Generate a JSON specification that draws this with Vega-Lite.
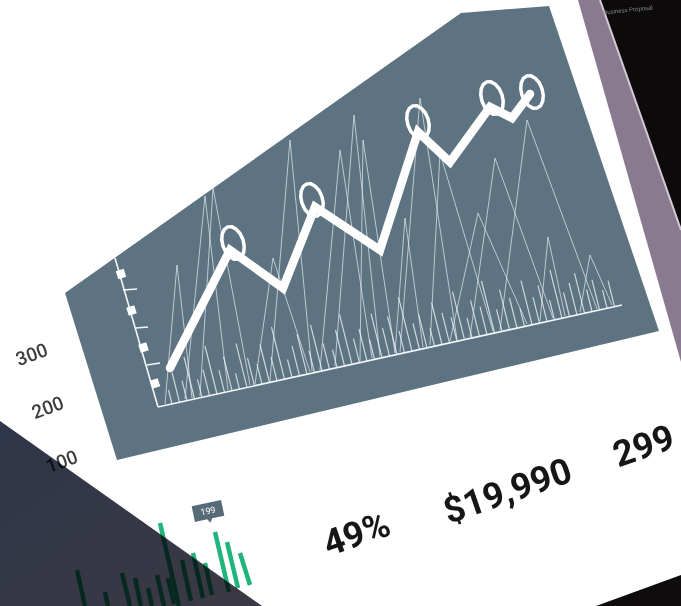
{
"$schema":"https://vega.github.io/schema/vega-lite/v6.json",
"autosize":{"type":"fit","contains":"padding"},
"width":681,"height":606,"padding":0,
"background":"#ffffff",
"config":{"view":{"stroke":null}},
"datasets":{
"shapes":[
{"part":"panel","o":0,"x":65,"y":293},{"part":"panel","o":1,"x":461,"y":13},{"part":"panel","o":2,"x":549,"y":6},{"part":"panel","o":3,"x":659,"y":331},{"part":"panel","o":4,"x":117,"y":460},
{"part":"bezel","o":0,"x":578,"y":0},{"part":"bezel","o":1,"x":600,"y":0},{"part":"bezel","o":2,"x":681,"y":230},{"part":"bezel","o":3,"x":681,"y":362},
{"part":"black","o":0,"x":600,"y":0},{"part":"black","o":1,"x":681,"y":0},{"part":"black","o":2,"x":681,"y":230},
{"part":"brblack","o":0,"x":596,"y":606},{"part":"brblack","o":1,"x":681,"y":575},{"part":"brblack","o":2,"x":681,"y":606},
{"part":"overlay","o":0,"x":0,"y":421},{"part":"overlay","o":1,"x":262,"y":606},{"part":"overlay","o":2,"x":0,"y":606}
],
"zig":[
{"s":1,"o":0,"x":165,"y":404},{"s":1,"o":1,"x":177,"y":265},{"s":1,"o":2,"x":192,"y":398},
{"s":2,"o":0,"x":185,"y":399},{"s":2,"o":1,"x":205,"y":196},{"s":2,"o":2,"x":228,"y":390},
{"s":3,"o":0,"x":200,"y":396},{"s":3,"o":1,"x":213,"y":188},{"s":3,"o":2,"x":250,"y":385},
{"s":4,"o":0,"x":255,"y":384},{"s":4,"o":1,"x":273,"y":258},{"s":4,"o":2,"x":310,"y":372},
{"s":5,"o":0,"x":270,"y":381},{"s":5,"o":1,"x":290,"y":140},{"s":5,"o":2,"x":312,"y":371},
{"s":6,"o":0,"x":320,"y":370},{"s":6,"o":1,"x":340,"y":150},{"s":6,"o":2,"x":372,"y":358},
{"s":7,"o":0,"x":335,"y":366},{"s":7,"o":1,"x":354,"y":115},{"s":7,"o":2,"x":380,"y":356},
{"s":8,"o":0,"x":360,"y":361},{"s":8,"o":1,"x":363,"y":140},{"s":8,"o":2,"x":395,"y":353},
{"s":9,"o":0,"x":400,"y":352},{"s":9,"o":1,"x":420,"y":98},{"s":9,"o":2,"x":457,"y":339},
{"s":10,"o":0,"x":395,"y":353},{"s":10,"o":1,"x":405,"y":218},{"s":10,"o":2,"x":423,"y":347},
{"s":11,"o":0,"x":430,"y":345},{"s":11,"o":1,"x":440,"y":153},{"s":11,"o":2,"x":493,"y":331},
{"s":12,"o":0,"x":450,"y":341},{"s":12,"o":1,"x":478,"y":213},{"s":12,"o":2,"x":527,"y":324},
{"s":13,"o":0,"x":470,"y":337},{"s":13,"o":1,"x":495,"y":158},{"s":13,"o":2,"x":553,"y":318},
{"s":14,"o":0,"x":500,"y":330},{"s":14,"o":1,"x":527,"y":120},{"s":14,"o":2,"x":597,"y":309},
{"s":15,"o":0,"x":540,"y":321},{"s":15,"o":1,"x":548,"y":237},{"s":15,"o":2,"x":565,"y":316},
{"s":16,"o":0,"x":580,"y":312},{"s":16,"o":1,"x":590,"y":255},{"s":16,"o":2,"x":612,"y":305}
],
"spikes":[
{"x":172,"y":404,"x2":168.5,"y2":390},{"x":179.5,"y":402.3,"x2":172,"y2":372.3},{"x":187,"y":400.6,"x2":182,"y2":380.6},{"x":194.5,"y":399,"x2":184,"y2":357},{"x":202,"y":397.3,"x2":197.5,"y2":379.3},{"x":209.5,"y":395.7,"x2":203,"y2":369.7},{"x":217,"y":394,"x2":205,"y2":346},{"x":224.5,"y":392.4,"x2":219,"y2":370.4},{"x":232,"y":390.7,"x2":223.5,"y2":356.7},{"x":239.5,"y":389.1,"x2":235.5,"y2":373.1},
{"x":247,"y":387.4,"x2":236,"y2":343.4},{"x":254.5,"y":385.8,"x2":247.5,"y2":357.8},{"x":262,"y":384.1,"x2":257,"y2":364.1},{"x":269.5,"y":382.5,"x2":260,"y2":344.5},{"x":277,"y":380.8,"x2":271,"y2":356.8},{"x":284.5,"y":379.2,"x2":271.5,"y2":327.2},{"x":292,"y":377.5,"x2":287.5,"y2":359.5},{"x":299.5,"y":375.9,"x2":292,"y2":345.9},{"x":307,"y":374.2,"x2":297,"y2":334.2},{"x":314.5,"y":372.6,"x2":309,"y2":350.6},
{"x":322,"y":370.9,"x2":310.5,"y2":324.9},{"x":329.5,"y":369.3,"x2":323,"y2":343.3},{"x":337,"y":367.6,"x2":332.5,"y2":349.6},{"x":344.5,"y":366,"x2":335.5,"y2":330},{"x":352,"y":364.3,"x2":339.5,"y2":314.3},{"x":359.5,"y":362.7,"x2":353.5,"y2":338.7},{"x":367,"y":361,"x2":359,"y2":329},{"x":374.5,"y":359.4,"x2":369.5,"y2":339.4},{"x":382,"y":357.7,"x2":371,"y2":313.7},{"x":389.5,"y":356.1,"x2":382.5,"y2":328.1},
{"x":397,"y":354.4,"x2":387.5,"y2":316.4},{"x":404.5,"y":352.8,"x2":399,"y2":330.8},{"x":412,"y":351.1,"x2":398.5,"y2":297.1},{"x":419.5,"y":349.5,"x2":413,"y2":323.5},{"x":427,"y":347.8,"x2":418.5,"y2":313.8},{"x":434.5,"y":346.2,"x2":430,"y2":328.2},{"x":442,"y":344.5,"x2":431.5,"y2":302.5},{"x":449.5,"y":342.9,"x2":442,"y2":312.9},{"x":457,"y":341.2,"x2":451,"y2":317.2},{"x":464.5,"y":339.6,"x2":452.5,"y2":291.6},
{"x":472,"y":337.9,"x2":467,"y2":317.9},{"x":479.5,"y":336.3,"x2":470.5,"y2":300.3},{"x":487,"y":334.6,"x2":480,"y2":306.6},{"x":494.5,"y":333,"x2":481.5,"y2":281},{"x":502,"y":331.3,"x2":496.5,"y2":309.3},{"x":509.5,"y":329.7,"x2":499.5,"y2":289.7},{"x":517,"y":328,"x2":509.5,"y2":298},{"x":524.5,"y":326.4,"x2":520,"y2":308.4},{"x":532,"y":324.7,"x2":521,"y2":280.7},{"x":539.5,"y":323.1,"x2":533,"y2":297.1},
{"x":547,"y":321.4,"x2":538,"y2":285.4},{"x":554.5,"y":319.8,"x2":549.5,"y2":299.8},{"x":562,"y":318.1,"x2":550,"y2":270.1},{"x":569.5,"y":316.5,"x2":563.5,"y2":292.5},{"x":577,"y":314.8,"x2":569,"y2":282.8},{"x":584.5,"y":313.2,"x2":574.5,"y2":273.2},{"x":592,"y":311.5,"x2":586.5,"y2":289.5},{"x":599.5,"y":309.9,"x2":592,"y2":279.9},{"x":607,"y":308.2,"x2":602.5,"y2":290.2},{"x":614.5,"y":306.6,"x2":608,"y2":280.6}
],
"segs":[
{"kind":"axis","x":115,"y":258,"x2":158,"y2":407},
{"kind":"axis","x":158,"y":407,"x2":622,"y2":305},
{"kind":"axis","x":123,"y":290,"x2":137,"y2":289},
{"kind":"axis","x":136,"y":328,"x2":148,"y2":327},
{"kind":"axis","x":147,"y":365,"x2":160,"y2":363},
{"kind":"edge","x":600,"y":0,"x2":681,"y2":230}
],
"blocks":[{"x":121,"y":274},{"x":131.5,"y":310.5},{"x":143.5,"y":347.5},{"x":155,"y":383.5}],
"main":[
{"o":0,"x":170,"y":368},{"o":1,"x":230,"y":250},{"o":2,"x":283,"y":288},{"o":3,"x":315,"y":207},{"o":4,"x":380,"y":250},
{"o":5,"x":418,"y":132},{"o":6,"x":450,"y":162},{"o":7,"x":490,"y":107},{"o":8,"x":512,"y":118},{"o":9,"x":530,"y":94}
],
"circles":[{"x":233,"y":243},{"x":312,"y":200},{"x":418,"y":122},{"x":492,"y":98},{"x":532,"y":92}],
"bars":[
{"x":77,"y":570,"x2":85,"y2":606},{"x":105,"y":592,"x2":108,"y2":606},{"x":122,"y":573,"x2":130,"y2":606},{"x":135,"y":578,"x2":141,"y2":606},{"x":148,"y":588,"x2":152,"y2":606},{"x":157,"y":575,"x2":164,"y2":606},{"x":160,"y":523,"x2":179,"y2":606},
{"x":168,"y":578,"x2":174,"y2":604},{"x":182,"y":560,"x2":191,"y2":601},{"x":193,"y":553,"x2":203,"y2":598},{"x":205,"y":563,"x2":212,"y2":595},{"x":215,"y":532,"x2":229,"y2":592},{"x":227,"y":542,"x2":238,"y2":588},{"x":240,"y":553,"x2":250,"y2":585}
],
"tag":[{"x":208,"y":511,"t":"199"}],
"small":[{"x":32,"y":355,"t":"300"},{"x":48,"y":408,"t":"200"},{"x":62,"y":462,"t":"100"}],
"big":[{"x":357,"y":535,"t":"49%"},{"x":508,"y":492,"t":"$19,990"},{"x":644,"y":447,"t":"299"}],
"tiny":[{"x":628,"y":10,"t":"Business Proposal"}]
},
"encoding":{
"x":{"field":"x","type":"quantitative","scale":{"domain":[0,681],"nice":false,"zero":false},"axis":null},
"y":{"field":"y","type":"quantitative","scale":{"domain":[0,606],"reverse":true,"nice":false,"zero":false},"axis":null}
},
"layer":[
{"data":{"name":"shapes"},"transform":[{"filter":"datum.part==='panel'"}],
 "mark":{"type":"line","interpolate":"linear-closed","fill":"#5d7381","strokeWidth":0},
 "encoding":{"order":{"field":"o","type":"quantitative"}}},
{"data":{"name":"zig"},
 "mark":{"type":"line","color":"#e6edf1","strokeWidth":1,"opacity":0.7},
 "encoding":{"detail":{"field":"s","type":"nominal"},"order":{"field":"o","type":"quantitative"}}},
{"data":{"name":"spikes"},
 "mark":{"type":"rule","color":"#eef3f6","strokeWidth":1.2,"opacity":0.8},
 "encoding":{"x2":{"field":"x2"},"y2":{"field":"y2"}}},
{"data":{"name":"segs"},"transform":[{"filter":"datum.kind==='axis'"}],
 "mark":{"type":"rule","color":"#f4f7f9","strokeWidth":1.6},
 "encoding":{"x2":{"field":"x2"},"y2":{"field":"y2"}}},
{"data":{"name":"blocks"},
 "mark":{"type":"point","shape":"square","size":70,"filled":true,"color":"#ffffff","opacity":1,"angle":-18}},
{"data":{"name":"main"},
 "mark":{"type":"line","color":"#ffffff","strokeWidth":8.5,"strokeCap":"round","strokeJoin":"miter"},
 "encoding":{"order":{"field":"o","type":"quantitative"}}},
{"data":{"name":"circles"},
 "mark":{"type":"point","shape":"M0.62,0L0.573,0.383L0.438,0.707L0.237,0.924L0,1L-0.237,0.924L-0.438,0.707L-0.573,0.383L-0.62,0L-0.573,-0.383L-0.438,-0.707L-0.237,-0.924L0,-1L0.237,-0.924L0.438,-0.707L0.573,-0.383Z","size":1150,"filled":false,"stroke":"#ffffff","strokeWidth":3.5,"opacity":1,"angle":-18}},
{"data":{"name":"shapes"},"transform":[{"filter":"datum.part==='bezel'"}],
 "mark":{"type":"line","interpolate":"linear-closed","fill":"#8a7a8f","strokeWidth":0},
 "encoding":{"order":{"field":"o","type":"quantitative"}}},
{"data":{"name":"shapes"},"transform":[{"filter":"datum.part==='black'"}],
 "mark":{"type":"line","interpolate":"linear-closed","fill":"#0c0a0b","strokeWidth":0},
 "encoding":{"order":{"field":"o","type":"quantitative"}}},
{"data":{"name":"segs"},"transform":[{"filter":"datum.kind==='edge'"}],
 "mark":{"type":"rule","color":"#d4ccd4","strokeWidth":2,"clip":true},
 "encoding":{"x2":{"field":"x2"},"y2":{"field":"y2"}}},
{"data":{"name":"shapes"},"transform":[{"filter":"datum.part==='brblack'"}],
 "mark":{"type":"line","interpolate":"linear-closed","fill":"#0e0c0d","strokeWidth":0},
 "encoding":{"order":{"field":"o","type":"quantitative"}}},
{"data":{"name":"tiny"},
 "mark":{"type":"text","fontSize":6,"color":"#8a8a8a","angle":-6,"align":"center","baseline":"middle","clip":true},
 "encoding":{"text":{"field":"t"}}},
{"data":{"name":"bars"},
 "mark":{"type":"rule","color":"#1fb57b","strokeWidth":4.5,"clip":true},
 "encoding":{"x2":{"field":"x2"},"y2":{"field":"y2"}}},
{"data":{"name":"tag"},
 "mark":{"type":"point","shape":"M-1.5,-0.8L1.5,-0.8L1.5,0.8L0.25,0.8L0,1.2L-0.25,0.8L-1.5,0.8Z","size":400,"filled":true,"color":"#566a78","opacity":1,"angle":-12}},
{"data":{"name":"tag"},
 "mark":{"type":"text","fontSize":9,"font":"Roboto","color":"#ffffff","angle":-12,"align":"center","baseline":"middle"},
 "encoding":{"text":{"field":"t"}}},
{"data":{"name":"small"},
 "mark":{"type":"text","fontSize":19,"font":"Roboto","fontWeight":500,"color":"#3d3d3d","angle":-20,"align":"center","baseline":"middle","clip":true},
 "encoding":{"text":{"field":"t"}}},
{"data":{"name":"big"},
 "mark":{"type":"text","fontSize":36,"font":"Roboto","fontWeight":"bold","color":"#161616","angle":-19,"align":"center","baseline":"middle","clip":true},
 "encoding":{"text":{"field":"t"}}},
{"data":{"name":"shapes"},"transform":[{"filter":"datum.part==='overlay'"}],
 "mark":{"type":"line","interpolate":"linear-closed","strokeWidth":0,"blend":"multiply",
  "fill":{"gradient":"linear","x1":0,"y1":0,"x2":1,"y2":1,"stops":[{"offset":0,"color":"#2f3649"},{"offset":1,"color":"#3b3943"}]}},
 "encoding":{"order":{"field":"o","type":"quantitative"}}}
]
}
